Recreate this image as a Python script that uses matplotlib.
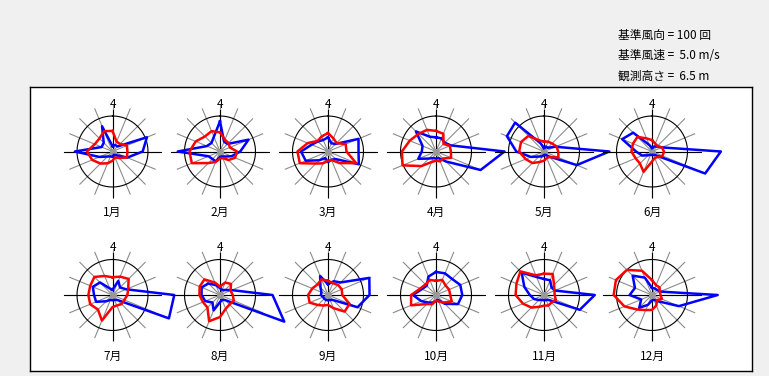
import numpy as np
import matplotlib
matplotlib.use("Agg")
import matplotlib.pyplot as plt

plt.rcParams['font.family'] = ['Noto Sans CJK JP', 'DejaVu Sans']

months = ["1月", "2月", "3月", "4月", "5月", "6月",
          "7月", "8月", "9月", "10月", "11月", "12月"]
directions = ["N", "NNE", "NE", "ENE", "E", "ESE", "SE", "SSE",
              "S", "SSW", "SW", "WSW", "W", "WNW", "NW", "NNW"]

ref_count = 100   # 基準風向 (回)
ref_speed = 5.0   # 基準風速 (m/s)

# wind direction frequency (counts) per month, 16 directions from N clockwise
freq_jan = [15, 20, 20, 105, 85, 45, 15, 10, 15, 15, 20, 40, 106, 33, 35, 77]
freq_feb = [85, 30, 30, 87, 57, 35, 20, 15, 15, 30, 30, 35, 119, 40, 34, 45]
freq_mar = [40, 25, 30, 93, 86, 94, 30, 25, 30, 20, 35, 68, 76, 50, 40, 35]
freq_apr = [40, 40, 35, 45, 193, 136, 40, 20, 20, 20, 28, 54, 40, 41, 80, 45]
freq_may = [10, 15, 15, 35, 184, 100, 20, 10, 10, 15, 20, 40, 78, 113, 115, 25]
freq_jun = [10, 15, 20, 30, 194, 162, 15, 10, 10, 10, 15, 30, 45, 91, 75, 20]
freq_jul = [15, 43, 30, 42, 174, 172, 20, 15, 15, 15, 25, 50, 52, 60, 50, 20]
freq_aug = [20, 15, 20, 36, 148, 196, 20, 15, 20, 47, 30, 45, 52, 56, 46, 30]
freq_sep = [30, 42, 50, 126, 117, 90, 20, 15, 15, 15, 15, 15, 20, 20, 30, 58]
freq_oct = [65, 66, 64, 74, 74, 67, 35, 15, 17, 23, 30, 45, 65, 43, 37, 56]
freq_nov = [45, 45, 30, 33, 143, 109, 20, 15, 15, 15, 20, 30, 40, 60, 89, 55]
freq_dec = [20, 20, 20, 25, 185, 82, 25, 15, 15, 30, 51, 33, 63, 52, 77, 53]

# mean wind speed (m/s) per direction
speed_jan = [2.9, 1.5, 1.5, 2.2, 2.1, 2.2, 1.3, 0.9, 1.3, 1.8, 2.4, 3.1, 3.6, 2.7, 2.6, 3.1]
speed_feb = [2.7, 1.8, 1.7, 1.5, 2.4, 2.3, 1.7, 1.0, 1.0, 1.6, 2.3, 4.3, 4.3, 3.7, 3.0, 3.1]
speed_mar = [2.6, 2.0, 1.7, 2.7, 2.6, 4.3, 2.3, 1.3, 1.3, 1.8, 2.4, 4.3, 4.3, 3.1, 2.1, 2.3]
speed_apr = [2.9, 2.7, 1.5, 2.1, 2.1, 2.3, 1.4, 1.5, 1.3, 1.6, 2.9, 5.1, 4.8, 4.0, 3.5, 3.3]
speed_may = [1.4, 1.5, 1.6, 1.9, 2.0, 2.2, 1.1, 1.0, 1.3, 1.6, 2.3, 2.8, 3.5, 3.5, 3.1, 1.7]
speed_jun = [1.6, 1.2, 1.1, 1.5, 1.7, 1.6, 1.1, 1.0, 1.4, 3.1, 2.4, 2.5, 2.9, 2.9, 2.9, 2.0]
speed_jul = [2.5, 2.8, 3.2, 2.4, 2.1, 1.8, 1.8, 1.6, 1.7, 3.9, 2.9, 3.4, 3.4, 3.4, 3.6, 2.9]
speed_aug = [1.2, 1.9, 2.2, 1.6, 1.8, 2.1, 1.9, 2.1, 3.1, 4.0, 2.5, 2.6, 2.9, 3.1, 3.1, 1.9]
speed_sep = [2.0, 1.8, 2.0, 2.1, 2.0, 3.3, 3.3, 2.0, 1.4, 1.6, 2.0, 2.8, 2.8, 2.4, 2.1, 2.4]
speed_oct = [2.0, 2.3, 1.9, 2.0, 2.0, 2.4, 1.5, 1.0, 0.8, 1.4, 1.8, 3.8, 3.5, 2.4, 2.1, 2.3]
speed_nov = [3.0, 3.2, 2.0, 1.6, 1.5, 1.8, 1.5, 1.6, 1.5, 1.8, 2.5, 3.2, 4.0, 4.2, 4.7, 3.0]
speed_dec = [2.1, 1.5, 1.5, 1.2, 1.2, 1.5, 1.0, 1.6, 2.1, 2.3, 2.9, 4.2, 5.4, 5.5, 5.0, 3.7]

freqs = [freq_jan, freq_feb, freq_mar, freq_apr, freq_may, freq_jun,
         freq_jul, freq_aug, freq_sep, freq_oct, freq_nov, freq_dec]
speeds = [speed_jan, speed_feb, speed_mar, speed_apr, speed_may, speed_jun,
          speed_jul, speed_aug, speed_sep, speed_oct, speed_nov, speed_dec]

info_lines = ["基準風向 = 100 回", "基準風速 =  5.0 m/s", "観測高さ =  6.5 m"]

W, H = 769, 376
fig = plt.figure(figsize=(W / 100, H / 100), dpi=100)
fig.patch.set_facecolor("#f0f0f0")

# white framed panel
bg = fig.add_axes([30 / W, (H - 371) / H, 722 / W, 284 / H])
bg.set_facecolor("white")
bg.set_xticks([]); bg.set_yticks([])
for s in bg.spines.values():
    s.set_color("black"); s.set_linewidth(1.0)

for i, t in enumerate(info_lines):
    fig.text(618 / W, 1 - (35 + 20.5 * i) / H, t, fontsize=8.5,
             ha="left", va="center", color="black")

R = 35.5          # circle radius in px
rmax = 1.4
half = rmax * R
xs = [112.5, 220, 328, 436, 544, 652]
ys = [151.5, 295]

theta = np.deg2rad(np.arange(16) * 22.5)
tc = np.append(theta, theta[0])
circ = np.linspace(0, 2 * np.pi, 200)

for m in range(12):
    cx = xs[m % 6]
    cy = ys[m // 6]
    ax = fig.add_axes([(cx - half) / W, (H - cy - half) / H, 2 * half / W, 2 * half / H],
                      projection="polar")
    ax.set_theta_zero_location("N")
    ax.set_theta_direction(-1)
    ax.set_ylim(0, rmax)
    ax.set_axis_off()
    ax.patch.set_visible(False)
    # spokes
    for th in theta:
        ax.plot([th, th], [0, 1.3], color="#8c8c8c", lw=0.8, clip_on=False, zorder=1)
    # reference circle
    ax.plot(circ, np.ones_like(circ), color="black", lw=0.8, clip_on=False, zorder=2)
    # cross axes
    ax.plot([0, 0], [0, 1.18], color="black", lw=0.8, clip_on=False, zorder=2)
    ax.plot([np.pi, np.pi], [0, 1.27], color="black", lw=0.8, clip_on=False, zorder=2)
    ax.plot([np.pi / 2, np.pi / 2], [0, 1.38], color="black", lw=0.8, clip_on=False, zorder=2)
    ax.plot([3 * np.pi / 2, 3 * np.pi / 2], [0, 1.38], color="black", lw=0.8, clip_on=False, zorder=2)
    ax.plot([0], [0], marker="o", ms=4, color="#999999", zorder=2, clip_on=False)

    f = np.array(freqs[m]) / ref_count
    s = np.array(speeds[m]) / ref_speed
    ax.plot(tc, np.append(f, f[0]), color="#0000ff", lw=1.8, clip_on=False, zorder=3)
    ax.plot(tc, np.append(s, s[0]), color="#ff0000", lw=1.8, clip_on=False, zorder=4)

    ax.text(0, 1.33, "4", ha="center", va="center", fontsize=8.5, color="black")
    ax.text(np.pi, 1.72, months[m], ha="center", va="center", fontsize=8.5, color="black")

fig.savefig("out.png", dpi=100, facecolor=fig.get_facecolor())
